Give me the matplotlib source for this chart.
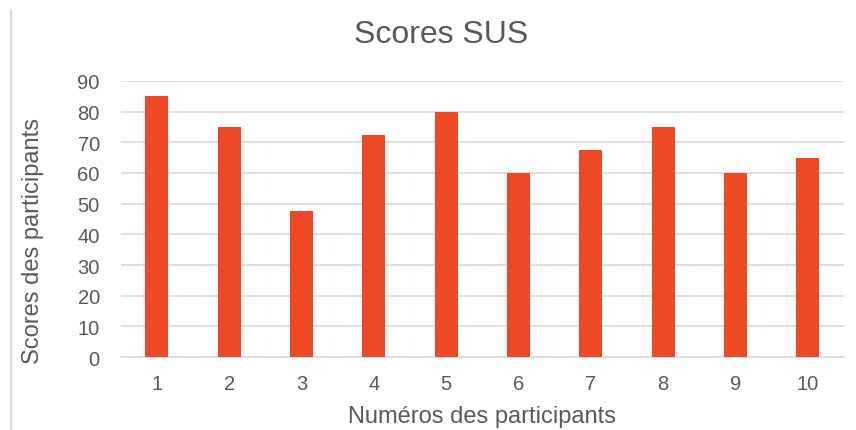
import matplotlib.pyplot as plt
from matplotlib.lines import Line2D

participants = ["1", "2", "3", "4", "5", "6", "7", "8", "9", "10"]
scores = [85, 75, 47.5, 72.5, 80, 60, 67.5, 75, 60, 65]
yticks = [0, 10, 20, 30, 40, 50, 60, 70, 80, 90]

text_color = "#595959"
plt.rcParams["font.family"] = ["Liberation Sans", "DejaVu Sans"]

fig = plt.figure(figsize=(8.56, 4.31), dpi=100)
ax = fig.add_axes([0.141, 0.169, 0.845, 0.641])

x = range(1, len(scores) + 1)
ax.bar(x, scores, width=0.32, color="#EE4925", zorder=3)

ax.set_xlim(0.5, len(scores) + 0.5)
ax.set_ylim(0, 90)
ax.set_yticks(yticks)
ax.set_xticks(list(x))
ax.set_xticklabels(participants)
ax.grid(axis="y", color="#D9D9D9", linewidth=1.2, zorder=0)
for side in ["top", "right", "left"]:
    ax.spines[side].set_visible(False)
ax.spines["bottom"].set_color("#D9D9D9")
ax.spines["bottom"].set_linewidth(1.2)
ax.tick_params(length=0, labelsize=14.5, colors=text_color)
ax.tick_params(axis="x", pad=12)
ax.tick_params(axis="y", pad=15)

# title and axis labels placed in figure coords to match the original layout
fig.text(0.515, 0.918, "Scores SUS", fontsize=23, color=text_color,
         ha="center", va="center")
fig.text(0.563, 0.032, "Numéros des participants", fontsize=17, color=text_color,
         ha="center", va="center")
fig.text(0.038, 0.44, "Scores des participants", fontsize=17, color=text_color,
         ha="center", va="center", rotation=90)

# thin border line on the left of the chart area
fig.add_artist(Line2D([0.013, 0.013], [0.0, 0.975], color="#D9D9D9", linewidth=1.5))

fig.savefig("out.png", dpi=100)
